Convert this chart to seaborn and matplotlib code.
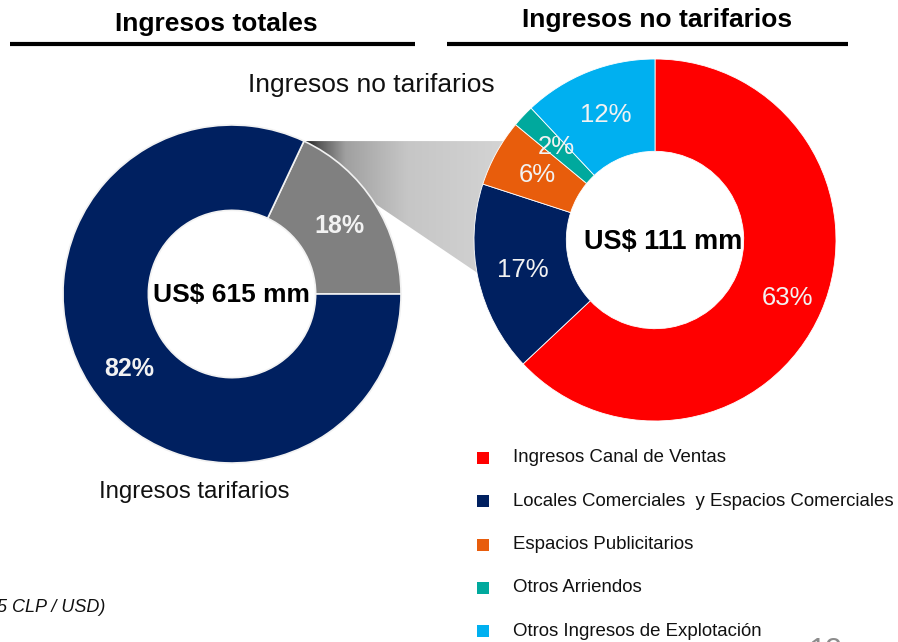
import matplotlib.pyplot as plt
import matplotlib.colors as mcolors
from matplotlib.patches import Polygon
import seaborn as sns
import numpy as np

# datos
total_labels = ["Ingresos tarifarios", "Ingresos no tarifarios"]
total_pct = [82, 18]
total_colors = ["#002060", "#808080"]
total_center_text = "US$ 615 mm"

nt_labels = ["Ingresos Canal de Ventas", "Locales Comerciales  y Espacios Comerciales",
             "Espacios Publicitarios", "Otros Arriendos", "Otros Ingresos de Explotación"]
nt_pct = [63, 17, 6, 2, 12]
nt_colors = ["#ff0000", "#002060", "#e85d0c", "#00a99d", "#00b0f0"]
nt_center_text = "US$ 111 mm"

sns.set_theme(style="white")
plt.rcParams['font.family'] = ['Liberation Sans', 'DejaVu Sans']

W, H = 898, 642
fig = plt.figure(figsize=(8.98, 6.42), dpi=100)
ax = fig.add_axes([0, 0, 1, 1])

c1, r1 = (232, 348), 169
c2, r2 = (655, 402), 181
lab_col = "#f2f2f2"

# donut izquierdo: 18% arriba a la derecha (desde las 3 en punto)
w1, _ = ax.pie(total_pct[::-1], colors=total_colors[::-1], center=c1, radius=r1,
               startangle=0, counterclock=True, frame=True,
               wedgeprops=dict(width=r1 * 0.505, edgecolor="#f2f2f2", linewidth=1.2))
for wdg in w1:
    wdg.set_zorder(3)

# donut derecho
w2, _ = ax.pie(nt_pct, colors=nt_colors, center=c2, radius=r2,
               startangle=90, counterclock=False, frame=True,
               wedgeprops=dict(width=r2 * 0.51, edgecolor="white", linewidth=0.6))
for wdg in w2:
    wdg.set_zorder(3)
ax.set_xlim(0, W)
ax.set_ylim(0, H)
ax.set_aspect('equal')
ax.axis('off')

# banda de conexion con degradado
g = w1[0]
t2 = np.deg2rad(g.theta2)
tm = np.deg2rad((g.theta1 + g.theta2) / 2)
p_top = (c1[0] + r1 * np.cos(t2), c1[1] + r1 * np.sin(t2))
p_bot = (c1[0] + r1 * np.cos(tm), c1[1] + r1 * np.sin(tm))
dy = p_top[1] - c2[1]
x_top_r = c2[0] - np.sqrt(r2 ** 2 - dy ** 2) + 30
ang = np.deg2rad(203)
p_bot_r = (c2[0] + (r2 - 30) * np.cos(ang), c2[1] + (r2 - 30) * np.sin(ang))
poly = Polygon([p_top, (x_top_r, p_top[1]), p_bot_r, p_bot], closed=True,
               facecolor='none', edgecolor='none')
ax.add_patch(poly)
cmap = mcolors.LinearSegmentedColormap.from_list(
    "fade", [(0, "#141414"), (0.06, "#555555"), (0.18, "#a0a0a0"),
             (0.45, "#c6c6c6"), (1, "#d8d8d8")])
grad = np.linspace(0, 1, 256).reshape(1, -1)
im = ax.imshow(grad, cmap=cmap, aspect='auto', origin='lower', zorder=1,
               extent=[p_top[0], x_top_r, p_bot_r[1], p_top[1]])
im.set_clip_path(poly)
ax.set_xlim(0, W)
ax.set_ylim(0, H)

# etiquetas de porcentajes
for wdg, p in zip(w1, total_pct[::-1]):
    th = np.deg2rad((wdg.theta1 + wdg.theta2) / 2)
    rr = r1 * 0.75
    if p == 82:
        th = np.deg2rad(216)
    ax.text(c1[0] + rr * np.cos(th), c1[1] + rr * np.sin(th), f"{p}%",
            ha='center', va='center', color=lab_col, fontsize=18, fontweight='bold', zorder=5)

nt_r = {63: 0.80, 17: 0.75, 6: 0.74, 2: 0.75, 12: 0.74}
for wdg, p in zip(w2, nt_pct):
    th = np.deg2rad((wdg.theta1 + wdg.theta2) / 2)
    rr = r2 * nt_r[p]
    ax.text(c2[0] + rr * np.cos(th), c2[1] + rr * np.sin(th), f"{p}%",
            ha='center', va='center', color=lab_col, fontsize=18.5, zorder=5)

ax.text(c1[0] - 1, c1[1] - 1, total_center_text, ha='center', va='center',
        fontsize=19, fontweight='bold', color='black', zorder=5)
ax.text(c2[0] + 8, c2[1] - 2, nt_center_text, ha='center', va='center',
        fontsize=19.5, fontweight='bold', color='black', zorder=5)

ax.text(371, H - 85, total_labels[1], ha='center', va='center', fontsize=19, color='#111111')
ax.text(194, H - 492, total_labels[0], ha='center', va='center', fontsize=17.3, color='#111111')

# titulos
ax.text(216, H - 24, "Ingresos totales", ha='center', va='center',
        fontsize=19, fontweight='bold', color='black')
ax.text(657, H - 20, "Ingresos no tarifarios", ha='center', va='center',
        fontsize=19, fontweight='bold', color='black')
ax.plot([10, 415], [H - 44, H - 44], color='black', lw=3, solid_capstyle='butt')
ax.plot([447, 848], [H - 44, H - 44], color='black', lw=3, solid_capstyle='butt')

# leyenda
for i, (lab, col) in enumerate(zip(nt_labels, nt_colors)):
    y = H - 458 - i * 43.3
    ax.scatter([483], [y], marker='s', s=70, color=col, linewidths=0)
    ax.text(513, y, lab, ha='left', va='center', fontsize=13.4, color='#111111')

ax.text(-3, H - 607, "5 CLP / USD)", ha='left', va='center', fontsize=13,
        style='italic', color='#111111')
ax.text(826, H - 652, "12", ha='center', va='center', fontsize=22, color='#8c8c8c')

fig.savefig("out.png", dpi=100)
